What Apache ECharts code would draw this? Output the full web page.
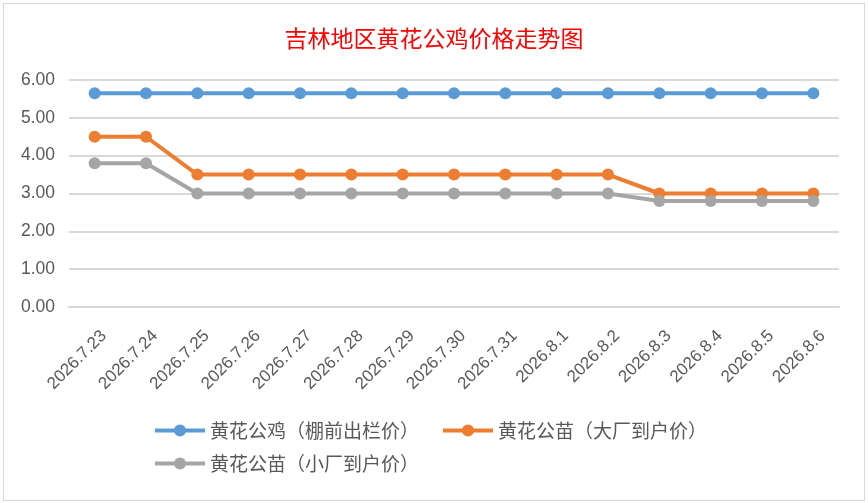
<!DOCTYPE html>
<html>
<head>
<meta charset="utf-8">
<script src="https://cdn.jsdelivr.net/npm/echarts@6/dist/echarts.min.js"></script>
<style>
html, body { margin: 0; padding: 0; background: #fff; }
#chart { width: 860px; height: 496px; position: absolute; left: 3px; top: 3px; border: 1px solid #d9d9d9; }
</style>
</head>
<body>
<div id="chart"></div>
<script>
var categories = ['2026.7.23', '2026.7.24', '2026.7.25', '2026.7.26', '2026.7.27', '2026.7.28', '2026.7.29',
	'2026.7.30', '2026.7.31', '2026.8.1', '2026.8.2', '2026.8.3', '2026.8.4', '2026.8.5', '2026.8.6'];
var roosterPrice = [5.65, 5.65, 5.65, 5.65, 5.65, 5.65, 5.65, 5.65, 5.65, 5.65, 5.65, 5.65, 5.65, 5.65, 5.65];
var chickBigPrice = [4.5, 4.5, 3.5, 3.5, 3.5, 3.5, 3.5, 3.5, 3.5, 3.5, 3.5, 3.0, 3.0, 3.0, 3.0];
var chickSmallPrice = [3.8, 3.8, 3.0, 3.0, 3.0, 3.0, 3.0, 3.0, 3.0, 3.0, 3.0, 2.8, 2.8, 2.8, 2.8];
var seriesNames = ['黄花公鸡（棚前出栏价）', '黄花公苗（大厂到户价）', '黄花公苗（小厂到户价）'];

var chart = echarts.init(document.getElementById('chart'));

function lineSeries(name, data, color) {
	return {
		name: name,
		type: 'line',
		data: data,
		symbol: 'circle',
		symbolSize: 12,
		lineStyle: { width: 4, color: color },
		itemStyle: { color: color },
		emphasis: { disabled: true }
	};
}

var option = {
	animation: false,
	title: {
		text: '吉林地区黄花公鸡价格走势图',
		left: 'center',
		top: 18,
		textStyle: {
			color: '#ff0000',
			fontSize: 23,
			fontWeight: 'normal',
			fontFamily: 'Noto Sans CJK SC'
		}
	},
	legend: {
		left: 144,
		top: 412,
		width: 620,
		itemWidth: 50,
		itemHeight: 15,
		itemGap: 14,
		lineStyle: { width: 4 },
		textStyle: {
			color: '#595959',
			fontSize: 19,
			lineHeight: 18,
			padding: [0, 8, 0, 0],
			fontFamily: 'Noto Sans CJK SC'
		},
		data: seriesNames
	},
	grid: {
		left: 65,
		right: 25,
		top: 76,
		height: 227,
		containLabel: false
	},
	xAxis: {
		type: 'category',
		data: categories,
		boundaryGap: true,
		axisLine: { lineStyle: { color: '#d9d9d9', width: 2 } },
		axisTick: { show: false },
		axisLabel: {
			rotate: 45,
			color: '#595959',
			fontSize: 17,
			fontFamily: 'Liberation Sans',
			margin: 17,
			verticalAlign: 'top',
			lineHeight: 26,
			interval: 0
		}
	},
	yAxis: {
		type: 'value',
		min: 0,
		max: 6,
		interval: 1,
		axisLine: { show: false },
		axisTick: { show: false },
		splitLine: { lineStyle: { color: '#d9d9d9', width: 2 } },
		axisLabel: {
			color: '#595959',
			fontSize: 17.5,
			fontFamily: 'Liberation Sans',
			margin: 14,
			formatter: function (v) { return v.toFixed(2); }
		}
	},
	series: [
		lineSeries(seriesNames[0], roosterPrice, '#5b9bd5'),
		lineSeries(seriesNames[1], chickBigPrice, '#ed7d31'),
		lineSeries(seriesNames[2], chickSmallPrice, '#a5a5a5')
	]
};
chart.setOption(option, true);
</script>
</body>
</html>
